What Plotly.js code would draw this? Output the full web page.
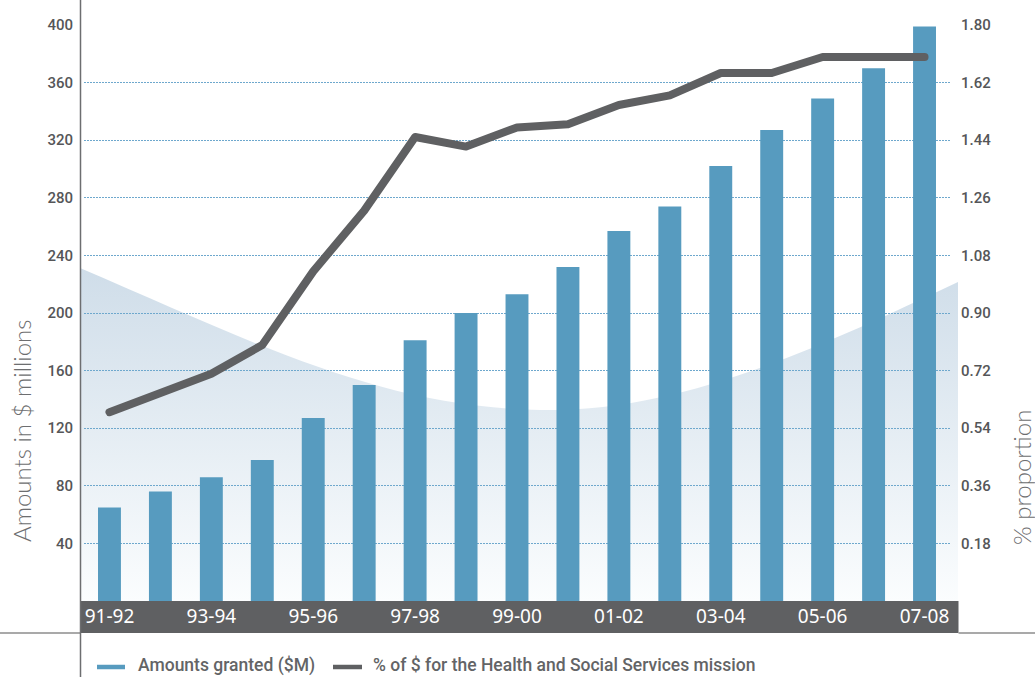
<!DOCTYPE html>
<html>
<head>
<meta charset="utf-8">
<script src="https://cdn.plot.ly/plotly-3.0.1.min.js"></script>
<style>
  html, body { margin: 0; padding: 0; background: #ffffff; }
  #chart { width: 1035px; height: 677px; }
  .scatterlayer .js-line { stroke-linecap: round; stroke-linejoin: round; }
</style>
</head>
<body>
<div id="chart"></div>
<script>
// ---- Data ----
const categories = ["91-92","92-93","93-94","94-95","95-96","96-97","97-98","98-99","99-00",
                    "00-01","01-02","02-03","03-04","04-05","05-06","06-07","07-08"];
const amountsGranted = [65, 76, 86, 98, 127, 150, 181, 200, 213, 232, 257, 274, 302, 327, 349, 370, 399];
const healthShare = [0.59, 0.65, 0.71, 0.80, 1.03, 1.22, 1.45, 1.42, 1.48, 1.49, 1.55, 1.58, 1.65, 1.65, 1.70, 1.70, 1.70];
const xTickLabels = ["91-92","93-94","95-96","97-98","99-00","01-02","03-04","05-06","07-08"];
const leftTicks = [40, 80, 120, 160, 200, 240, 280, 320, 360, 400];
const rightTicks = [0.18, 0.36, 0.54, 0.72, 0.90, 1.08, 1.26, 1.44, 1.62, 1.80];
const seriesNames = ["Amounts granted ($M)", "% of $ for the Health and Social Services mission"];
const axisTitles = ["Amounts in $ millions", "% proportion"];

// ---- Layout helpers (pixel -> paper) ----
const L = 84, R = 950, T = 25, B = 601;
const W = R - L, H = B - T;
const px = X => (X - L) / W;
const py = Y => (B - Y) / H;

const barColor = "#579bbf";
const lineColor = "#5f6062";
const tickFont = { family: "Roboto, 'Noto Sans', sans-serif", size: 15, color: "#555658", weight: 500 };
const legendFont = { family: "Roboto, 'Noto Sans', sans-serif", size: 17.5, color: "#636466", weight: 500 };
const titleFont = { family: "Lato, Roboto, sans-serif", size: 24, color: "#6d6e70", weight: 300 };

const bgSvg = '<svg xmlns="http://www.w3.org/2000/svg" width="878" height="334" viewBox="0 0 878 334" preserveAspectRatio="none">' +
  '<defs><linearGradient id="g" x1="0" y1="0" x2="0" y2="1">' +
  '<stop offset="0" stop-color="#cfdde9"/><stop offset="1" stop-color="#fbfdfe"/></linearGradient></defs>' +
  '<path d="M0,1 C180,78 300,140 460,143 C600,146 740,80 878,15 L878,334 L0,334 Z" fill="url(#g)"/></svg>';

const traces = [
  {
    type: "bar",
    x: categories,
    y: amountsGranted,
    name: seriesNames[0],
    marker: { color: barColor },
    width: 0.45,
    hoverinfo: "x+y",
    xaxis: "x", yaxis: "y"
  },
  {
    type: "scatter",
    mode: "lines",
    x: categories,
    y: healthShare,
    name: seriesNames[1],
    line: { color: lineColor, width: 8 },
    xaxis: "x", yaxis: "y2"
  }
];

const layout = {
  width: 1035, height: 677,
  margin: { l: L, r: 1035 - R, t: T, b: 677 - B, pad: 0 },
  paper_bgcolor: "#ffffff",
  plot_bgcolor: "rgba(0,0,0,0)",
  showlegend: false,
  bargap: 0.55,
  xaxis: {
    type: "category",
    categoryorder: "array",
    categoryarray: categories,
    range: [-0.5, categories.length - 0.5],
    tickmode: "array",
    tickvals: xTickLabels,
    ticktext: xTickLabels,
    tickfont: { family: "'Noto Sans', 'Open Sans', sans-serif", size: 19, color: "#ffffff" },
    showgrid: false, showline: false, zeroline: false, ticks: "",
    ticklabelstandoff: 2,
    fixedrange: true
  },
  yaxis: {
    range: [0, 400],
    tickmode: "array",
    tickvals: leftTicks,
    ticktext: leftTicks.map(String),
    tickfont: tickFont,
    showgrid: true,
    gridcolor: "#6ea8cd",
    gridwidth: 1,
    griddash: "1.5px,1.5px",
    zeroline: false, showline: false, ticks: "",
    ticklabelstandoff: 10,
    fixedrange: true
  },
  yaxis2: {
    overlaying: "y",
    side: "right",
    range: [0, 1.8],
    tickmode: "array",
    tickvals: rightTicks,
    ticktext: rightTicks.map(v => v.toFixed(2)),
    tickfont: tickFont,
    showgrid: false, zeroline: false, showline: false, ticks: "",
    ticklabelstandoff: 10,
    fixedrange: true
  },
  images: [{
    source: "data:image/svg+xml;charset=utf-8," + encodeURIComponent(bgSvg),
    xref: "paper", yref: "paper",
    x: px(80), y: py(267),
    sizex: 878 / W, sizey: 334 / H,
    xanchor: "left", yanchor: "top",
    sizing: "stretch", layer: "below"
  }],
  shapes: [
    // dark category band
    { type: "rect", xref: "paper", yref: "paper", x0: px(80), x1: px(958.5), y0: py(601), y1: py(633),
      fillcolor: "#5f6062", line: { width: 0 }, layer: "below" },
    // left vertical rule
    { type: "line", xref: "paper", yref: "paper", x0: px(80.5), x1: px(80.5), y0: py(0), y1: py(677),
      line: { color: "#6d6e70", width: 1.5 }, layer: "above" },
    // bottom horizontal rules
    { type: "line", xref: "paper", yref: "paper", x0: px(0), x1: px(80), y0: py(633), y1: py(633),
      line: { color: "#8c8c8c", width: 1.6 }, layer: "below" },
    { type: "line", xref: "paper", yref: "paper", x0: px(958.5), x1: px(1035), y0: py(633), y1: py(633),
      line: { color: "#8c8c8c", width: 1.6 }, layer: "below" },
    // legend swatches
    { type: "line", xref: "paper", yref: "paper", x0: px(97), x1: px(125), y0: py(667), y1: py(667),
      line: { color: barColor, width: 4.5 } },
    { type: "line", xref: "paper", yref: "paper", x0: px(333), x1: px(362), y0: py(667), y1: py(667),
      line: { color: lineColor, width: 4.5 } }
  ],
  annotations: [
    { text: seriesNames[0], xref: "paper", yref: "paper", x: px(136), y: py(665),
      xanchor: "left", yanchor: "middle", showarrow: false, font: legendFont },
    { text: seriesNames[1], xref: "paper", yref: "paper", x: px(371), y: py(665),
      xanchor: "left", yanchor: "middle", showarrow: false, font: legendFont },
    { text: axisTitles[0], xref: "paper", yref: "paper", x: px(21), y: py(431),
      xanchor: "center", yanchor: "middle", textangle: -90, showarrow: false, font: titleFont },
    { text: axisTitles[1], xref: "paper", yref: "paper", x: px(1021), y: py(478),
      xanchor: "center", yanchor: "middle", textangle: -90, showarrow: false, font: titleFont }
  ]
};

Plotly.newPlot("chart", traces, layout, { displayModeBar: false, staticPlot: true });
</script>
</body>
</html>
